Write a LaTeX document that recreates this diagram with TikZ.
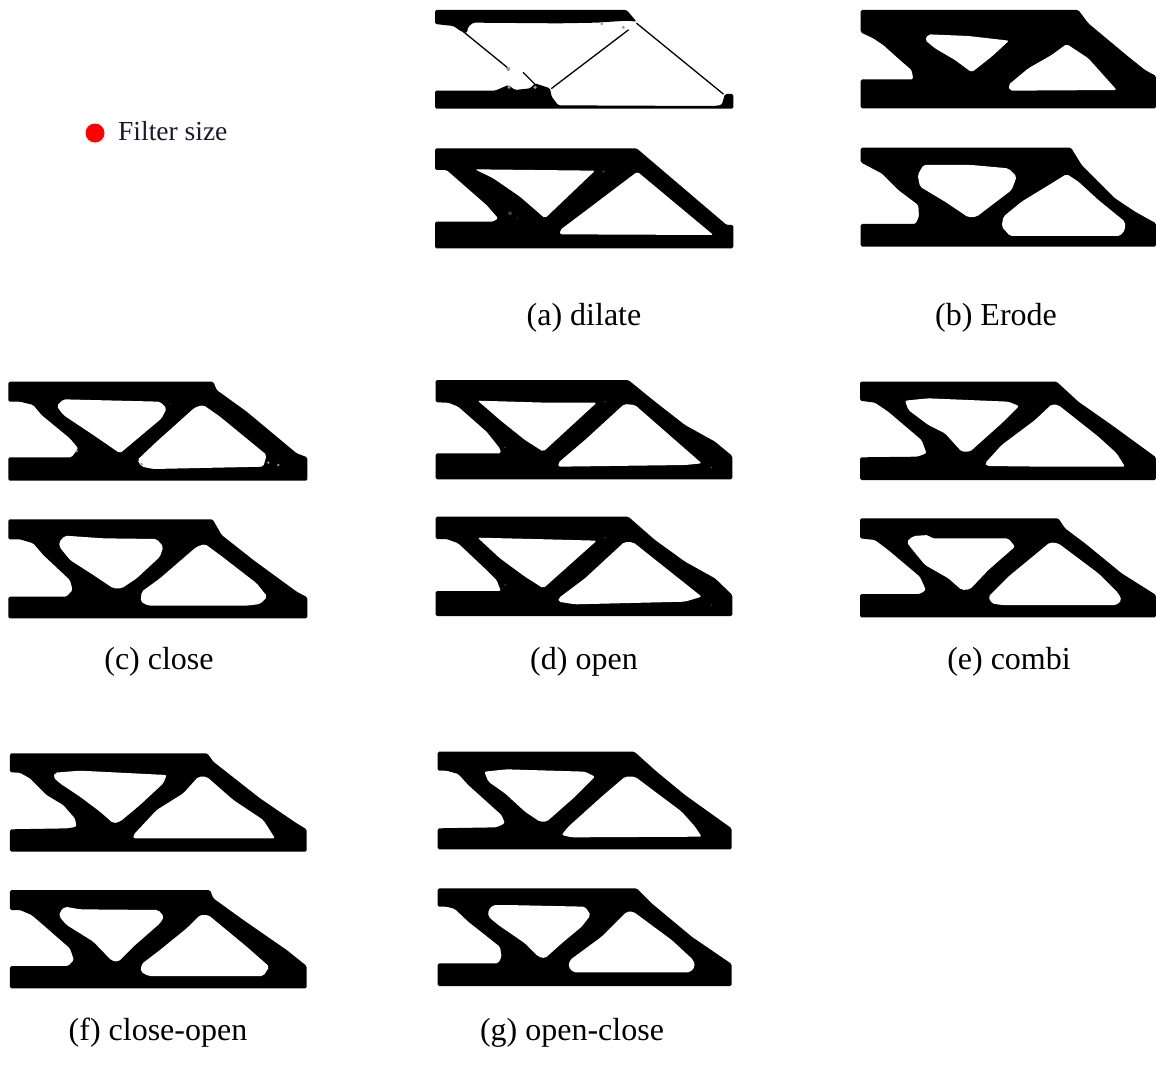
\documentclass[tikz,border=0pt]{standalone}
\usepackage{fontspec}
\setmainfont{Liberation Serif}
\definecolor{filterRed}{HTML}{FF0000}
\definecolor{filterInk}{HTML}{1A1A2E}
\definecolor{blurGrey}{HTML}{9A9A9A}
\definecolor{blurDark}{HTML}{3A3A3A}
\begin{document}
\begin{tikzpicture}[x=1pt,y=-1pt,line cap=round,line join=round]
\tikzset{solidpart/.style={fill=black,rounded corners=1.5pt},voidpart/.style={fill=white,rounded corners=2pt},thinbar/.style={draw=black,line width=1.3pt},blur/.style={fill=blurGrey},darkblur/.style={fill=blurDark},caption/.style={anchor=base,text=black,font=\fontsize{32}{36}\selectfont},zoomed/.style={scale=1/3}}
\path[fill=white] (0,0) rectangle (1156,1076);
\fill[filterRed] (95,133) circle (9.5pt);
\node[anchor=west,text=filterInk,font=\fontsize{27.5}{32}\selectfont,inner sep=0pt] (lblFilter) at (118,131) {Filter size};
\begin{scope}[shift={(420,0)},zoomed]
\path[solidpart] (45,30) -- (620,30) -- (650,65) -- (620,62) -- (530,68) -- (415,70) -- (160,68) -- (145,80) -- (140,100) -- (125,95) -- (100,78) -- (45,72) -- cycle;
\draw[thinbar] (130,95) -- (265,205);
\draw[thinbar] (310,218) -- (350,258);
\draw[thinbar] (395,265) -- (625,90);
\draw[thinbar] (650,70) -- (910,282);
\path[solidpart] (45,272) -- (225,272) -- (265,255) -- (285,270) -- (330,265) -- (345,250) -- (390,265) -- (395,290) -- (415,316) -- (880,318) -- (905,315) -- (915,282) -- (940,282) -- (940,326) -- (45,326) -- cycle;
\fill[blur] (265,207) circle (6pt); \fill[blur] (267,262) circle (5pt); \fill[blur] (345,262) circle (5.5pt); \fill[blur] (545,72) circle (4pt); \fill[blur] (610,82) circle (5pt);
\path[solidpart] (45,445) -- (650,445) -- (920,675) -- (940,675) -- (940,745) -- (45,745) -- (45,665) -- (220,665) -- (235,655) -- (200,615) -- (80,510) -- (45,510) -- cycle;
\path[voidpart] (165,508) -- (525,512) -- (375,655) -- (300,590) -- (220,535) -- cycle;
\path[voidpart] (652,515) -- (880,705) -- (420,703) -- (420,690) -- (500,630) -- cycle;
\fill[darkblur] (270,640) circle (6pt); \fill[white] (292,654) circle (1pt); \fill[darkblur] (550,515) circle (4pt);
\end{scope}
\begin{scope}[shift={(845,0)},zoomed]
\path[solidpart] (47,30) -- (700,30) -- (730,70) -- (850,170) -- (900,210) -- (933,228) -- (933,325) -- (47,325) -- (47,238) -- (205,238) -- (200,210) -- (165,180) -- (115,135) -- (85,115) -- (47,97) -- cycle;
\path[voidpart] (250,103) -- (370,108) -- (492,122) -- (440,170) -- (380,217) -- (330,180) -- (270,145) -- (240,120) -- cycle;
\path[voidpart] (665,132) -- (730,175) -- (815,270) -- (495,272) -- (490,255) -- (550,205) -- (620,165) -- cycle;
\path[solidpart] (47,443) -- (678,443) -- (710,495) -- (760,545) -- (810,595) -- (870,635) -- (933,670) -- (933,740) -- (47,740) -- (47,672) -- (212,672) -- (222,650) -- (220,615) -- (160,570) -- (110,520) -- (47,487) -- cycle;
\path[voidpart] (235,495) -- (380,495) -- (490,505) -- (515,530) -- (500,570) -- (395,650) -- (370,652) -- (300,605) -- (225,560) -- (218,525) -- cycle;
\path[voidpart] (665,522) -- (700,545) -- (760,600) -- (840,665) -- (840,690) -- (825,708) -- (495,708) -- (470,680) -- (475,650) -- (530,605) -- (620,550) -- cycle;
\end{scope}
\begin{scope}[shift={(0,370)},zoomed]
\path[solidpart] (25,35) -- (640,35) -- (650,60) -- (740,125) -- (890,250) -- (922,262) -- (922,332) -- (25,332) -- (25,262) -- (215,262) -- (235,235) -- (210,205) -- (125,135) -- (100,105) -- (60,95) -- (25,95) -- cycle;
\path[voidpart] (190,88) -- (480,95) -- (500,115) -- (485,145) -- (360,250) -- (280,195) -- (190,135) -- (170,108) -- cycle;
\path[voidpart] (610,105) -- (660,140) -- (800,255) -- (790,290) -- (460,297) -- (425,290) -- (412,270) -- (470,215) -- (585,112) -- cycle;
\fill[blur] (230,243) circle (4pt); \fill[blur] (425,282) circle (4pt); \fill[blur] (805,278) circle (4pt); \fill[blur] (835,285) circle (4pt); \fill[white] (510,102) circle (1.2pt);
\path[solidpart] (25,448) -- (638,448) -- (665,495) -- (760,570) -- (890,665) -- (922,682) -- (922,745) -- (25,745) -- (25,680) -- (200,680) -- (218,660) -- (210,630) -- (130,555) -- (100,520) -- (60,508) -- (25,508) -- cycle;
\path[voidpart] (195,497) -- (310,505) -- (470,507) -- (490,530) -- (480,560) -- (410,625) -- (365,655) -- (340,655) -- (280,615) -- (210,570) -- (178,530) -- (178,515) -- cycle;
\path[voidpart] (615,522) -- (660,555) -- (770,640) -- (802,680) -- (780,702) -- (740,707) -- (445,707) -- (422,695) -- (425,665) -- (480,625) -- (590,530) -- cycle;
\end{scope}
\begin{scope}[shift={(425,370)},zoomed]
\path[solidpart] (32,30) -- (610,30) -- (690,95) -- (780,165) -- (870,215) -- (922,258) -- (922,328) -- (32,328) -- (32,250) -- (228,250) -- (225,235) -- (185,185) -- (100,110) -- (70,98) -- (32,97) -- cycle;
\path[voidpart] (158,92) -- (365,98) -- (515,98) -- (355,245) -- (300,210) -- (225,150) -- (185,115) -- cycle;
\path[voidpart] (598,102) -- (630,105) -- (830,280) -- (780,285) -- (400,290) -- (400,278) -- (480,210) -- cycle;
\fill[darkblur] (240,232) circle (3pt); \fill[white] (540,95) circle (1.2pt); \fill[white] (860,293) circle (1.2pt);
\path[solidpart] (32,440) -- (610,440) -- (690,510) -- (780,575) -- (870,625) -- (922,675) -- (922,738) -- (32,738) -- (32,663) -- (228,663) -- (215,630) -- (185,600) -- (100,520) -- (65,507) -- (32,507) -- cycle;
\path[voidpart] (158,503) -- (365,508) -- (515,512) -- (355,655) -- (300,620) -- (225,565) -- cycle;
\path[voidpart] (598,516) -- (625,517) -- (830,680) -- (780,695) -- (450,703) -- (400,695) -- (400,685) -- (480,625) -- cycle;
\fill[darkblur] (240,645) circle (3pt); \fill[white] (540,503) circle (1.2pt); \fill[white] (860,705) circle (1.2pt);
\end{scope}
\begin{scope}[shift={(845,370)},zoomed]
\path[solidpart] (45,35) -- (635,35) -- (700,95) -- (800,165) -- (933,262) -- (933,330) -- (45,330) -- (45,262) -- (218,260) -- (245,250) -- (230,210) -- (130,125) -- (90,98) -- (45,92) -- cycle;
\path[voidpart] (180,92) -- (250,85) -- (490,95) -- (522,108) -- (470,160) -- (375,245) -- (350,245) -- (300,190) -- (250,165) -- (190,120) -- cycle;
\path[voidpart] (620,103) -- (640,105) -- (760,200) -- (815,250) -- (840,290) -- (600,290) -- (425,288) -- (420,280) -- (470,225) -- (570,150) -- cycle;
\path[solidpart] (45,445) -- (640,445) -- (660,475) -- (720,520) -- (830,610) -- (933,675) -- (933,742) -- (45,742) -- (45,672) -- (225,672) -- (243,660) -- (225,620) -- (130,540) -- (90,510) -- (45,505) -- cycle;
\path[voidpart] (205,498) -- (250,495) -- (260,505) -- (490,505) -- (510,530) -- (430,600) -- (375,658) -- (350,660) -- (310,625) -- (240,585) -- (195,530) -- (185,515) -- cycle;
\path[voidpart] (615,517) -- (640,520) -- (760,610) -- (820,670) -- (830,690) -- (815,705) -- (470,705) -- (440,700) -- (430,680) -- (490,620) -- cycle;
\end{scope}
\begin{scope}[shift={(0,740)},zoomed]
\path[solidpart] (30,40) -- (622,40) -- (640,65) -- (780,175) -- (890,250) -- (920,268) -- (920,335) -- (30,335) -- (30,268) -- (205,265) -- (230,260) -- (225,235) -- (190,195) -- (140,165) -- (90,115) -- (60,98) -- (30,97) -- cycle;
\path[voidpart] (165,98) -- (240,92) -- (500,105) -- (490,130) -- (420,195) -- (360,245) -- (340,250) -- (300,215) -- (240,170) -- (180,130) -- (160,112) -- cycle;
\path[voidpart] (595,110) -- (620,110) -- (700,180) -- (790,240) -- (825,295) -- (400,295) -- (400,285) -- (470,210) -- (550,160) -- cycle;
\path[solidpart] (30,450) -- (630,450) -- (640,475) -- (730,540) -- (860,630) -- (920,678) -- (920,745) -- (30,745) -- (30,678) -- (205,678) -- (222,660) -- (210,625) -- (130,555) -- (95,525) -- (60,510) -- (30,510) -- cycle;
\path[voidpart] (195,500) -- (240,508) -- (475,510) -- (492,530) -- (480,550) -- (400,620) -- (355,665) -- (335,662) -- (280,605) -- (200,555) -- (178,530) -- (180,515) -- cycle;
\path[voidpart] (600,525) -- (625,525) -- (740,620) -- (808,680) -- (790,708) -- (445,708) -- (422,695) -- (425,672) -- (480,630) -- (560,565) -- cycle;
\end{scope}
\begin{scope}[shift={(425,740)},zoomed]
\path[solidpart] (38,35) -- (628,35) -- (695,95) -- (780,165) -- (920,265) -- (920,328) -- (38,328) -- (38,265) -- (215,262) -- (240,250) -- (230,225) -- (130,135) -- (100,102) -- (65,92) -- (38,92) -- cycle;
\path[voidpart] (178,95) -- (245,88) -- (480,95) -- (510,110) -- (450,170) -- (365,245) -- (345,245) -- (300,215) -- (240,160) -- (190,125) -- cycle;
\path[voidpart] (600,110) -- (630,110) -- (770,215) -- (810,260) -- (830,290) -- (440,292) -- (410,285) -- (430,260) -- (530,170) -- cycle;
\path[solidpart] (38,445) -- (635,445) -- (680,490) -- (800,590) -- (920,672) -- (920,738) -- (38,738) -- (38,670) -- (220,670) -- (230,650) -- (225,620) -- (130,545) -- (90,507) -- (65,500) -- (38,500) -- cycle;
\path[voidpart] (205,495) -- (245,495) -- (480,500) -- (497,525) -- (470,560) -- (410,610) -- (360,655) -- (340,650) -- (300,610) -- (220,555) -- (190,530) -- (190,510) -- cycle;
\path[voidpart] (605,515) -- (625,515) -- (740,600) -- (805,660) -- (810,680) -- (795,697) -- (445,697) -- (430,680) -- (435,660) -- (530,590) -- cycle;
\end{scope}
\node[caption] (lblDilate) at (584,325) {(a) dilate};
\node[caption] (lblErode) at (996,325) {(b) Erode};
\node[caption] (lblClose) at (159,669) {(c) close};
\node[caption] (lblOpen) at (584,669) {(d) open};
\node[caption] (lblCombi) at (1009,669) {(e) combi};
\node[caption] (lblCloseOpen) at (158,1040) {(f) close-open};
\node[caption] (lblOpenClose) at (572,1040) {(g) open-close};
\end{tikzpicture}
\end{document}
